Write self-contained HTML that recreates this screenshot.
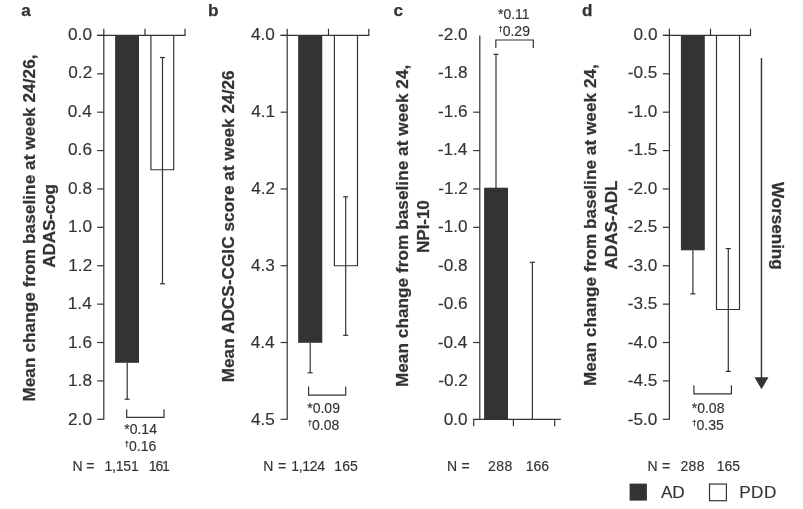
<!DOCTYPE html>
<html lang="en">
<head>
<meta charset="utf-8">
<title>Figure</title>
<style>
html,body{margin:0;padding:0;background:#fff;}
body{width:803px;height:509px;overflow:hidden;font-family:"Liberation Sans",Arial,Helvetica,sans-serif;}
svg{display:block;}
svg text{font-family:"Liberation Sans",Arial,Helvetica,sans-serif;fill:#333;stroke:#333;stroke-width:0.15px;stroke-linejoin:round;}
svg text.b{font-weight:bold;stroke-width:0.25px;}
svg .dg{stroke-width:0.3px;}
svg .ln line, svg .ln polyline, svg .ax line{stroke:#333;stroke-width:1.2px;}
</style>
</head>
<body>
<svg width="803" height="509" viewBox="0 0 803 509">
<rect x="0" y="0" width="803" height="509" fill="#ffffff"/>
<!-- panel a -->
<text x="21.2" y="15.9" font-size="17.15" class="b">a</text>
<g class="ln">
<rect x="115.1" y="35.4" width="23.9" height="327.4" fill="#333" stroke="none"/>
<rect x="150.9" y="35.4" width="22.8" height="134.37" fill="#fff" stroke="none"/>
<polyline points="150.9,35.4 150.9,169.77 173.7,169.77 173.7,35.4" fill="none"/>
<line x1="162.5" y1="57.5" x2="162.5" y2="283.8"/>
<line x1="160" y1="57.5" x2="165" y2="57.5"/>
<line x1="160" y1="283.8" x2="165" y2="283.8"/>
<line x1="127.2" y1="362.8" x2="127.2" y2="399.2"/>
<line x1="124.7" y1="399.2" x2="129.7" y2="399.2"/>
<polyline points="126.7,409.2 126.7,417.4 164,417.4 164,409.2" fill="none"/>
<line x1="97.2" y1="35.4" x2="185.5" y2="35.4"/>
<line x1="145" y1="28.7" x2="145" y2="35.4"/>
<line x1="185" y1="28.7" x2="185" y2="35.4"/>
</g>
<g class="ax">
<line x1="103.8" y1="28.7" x2="103.8" y2="419.8"/>
<line x1="97.2" y1="35.4" x2="103.8" y2="35.4"/>
<line x1="97.2" y1="73.79" x2="103.8" y2="73.79"/>
<line x1="97.2" y1="112.18" x2="103.8" y2="112.18"/>
<line x1="97.2" y1="150.57" x2="103.8" y2="150.57"/>
<line x1="97.2" y1="188.96" x2="103.8" y2="188.96"/>
<line x1="97.2" y1="227.35" x2="103.8" y2="227.35"/>
<line x1="97.2" y1="265.74" x2="103.8" y2="265.74"/>
<line x1="97.2" y1="304.13" x2="103.8" y2="304.13"/>
<line x1="97.2" y1="342.52" x2="103.8" y2="342.52"/>
<line x1="97.2" y1="380.91" x2="103.8" y2="380.91"/>
<line x1="97.2" y1="419.3" x2="103.8" y2="419.3"/>
</g>
<g class="tl">
<text x="68.05" y="39.95" font-size="17.2">0.0</text>
<text x="68.3" y="78.43" font-size="17.2">0.2</text>
<text x="67.8" y="116.91" font-size="17.2">0.4</text>
<text x="68.05" y="155.39" font-size="17.2">0.6</text>
<text x="68.05" y="193.87" font-size="17.2">0.8</text>
<text x="68.05" y="232.35" font-size="17.2">1.0</text>
<text x="68.3" y="270.83" font-size="17.2">1.2</text>
<text x="67.8" y="309.31" font-size="17.2">1.4</text>
<text x="68.05" y="347.79" font-size="17.2">1.6</text>
<text x="68.05" y="386.27" font-size="17.2">1.8</text>
<text x="68.05" y="424.75" font-size="17.2">2.0</text>
</g>
<text x="124.25" y="433.9" font-size="14">*0.14</text>
<text x="124.85" y="451" font-size="14"><tspan class="dg" font-size="7.4" dy="-4.7">†</tspan><tspan dy="4.8">0.16</tspan></text>
<text x="72.5" y="471.3" font-size="14">N</text>
<text x="86.2" y="471.3" font-size="14">=</text>
<text x="104.4" y="471.3" font-size="14" textLength="34.35" lengthAdjust="spacing">1,151</text>
<text x="148.8" y="471.3" font-size="14" textLength="21.01" lengthAdjust="spacing">161</text>
<text transform="translate(34.6 401.6) rotate(-90)" font-size="17.15" class="b" textLength="347.17" lengthAdjust="spacing">Mean change from baseline at week 24/26,</text>
<text transform="translate(55.4 267.65) rotate(-90)" font-size="17.15" class="b" textLength="83.65" lengthAdjust="spacing">ADAS-cog</text>
<!-- panel b -->
<text x="207.95" y="15.9" font-size="17.15" class="b">b</text>
<g class="ln">
<rect x="298.15" y="35.4" width="24.1" height="307.4" fill="#333" stroke="none"/>
<rect x="334.4" y="35.4" width="23.1" height="230.34" fill="#fff" stroke="none"/>
<polyline points="334.4,35.4 334.4,265.74 357.5,265.74 357.5,35.4" fill="none"/>
<line x1="345.7" y1="196.8" x2="345.7" y2="335.3"/>
<line x1="343.2" y1="196.8" x2="348.2" y2="196.8"/>
<line x1="343.2" y1="335.3" x2="348.2" y2="335.3"/>
<line x1="310.2" y1="342.8" x2="310.2" y2="372.8"/>
<line x1="307.7" y1="372.8" x2="312.7" y2="372.8"/>
<polyline points="308.6,386.5 308.6,395.2 345.7,395.2 345.7,386.5" fill="none"/>
<line x1="280.6" y1="35.4" x2="369.3" y2="35.4"/>
<line x1="328.5" y1="28.7" x2="328.5" y2="35.4"/>
<line x1="368.8" y1="28.7" x2="368.8" y2="35.4"/>
</g>
<g class="ax">
<line x1="287.2" y1="28.7" x2="287.2" y2="419.8"/>
<line x1="280.6" y1="35.4" x2="287.2" y2="35.4"/>
<line x1="280.6" y1="112.18" x2="287.2" y2="112.18"/>
<line x1="280.6" y1="188.96" x2="287.2" y2="188.96"/>
<line x1="280.6" y1="265.74" x2="287.2" y2="265.74"/>
<line x1="280.6" y1="342.52" x2="287.2" y2="342.52"/>
<line x1="280.6" y1="419.3" x2="287.2" y2="419.3"/>
</g>
<g class="tl">
<text x="250.95" y="39.95" font-size="17.2">4.0</text>
<text x="251.2" y="116.91" font-size="17.2">4.1</text>
<text x="251.2" y="193.87" font-size="17.2">4.2</text>
<text x="250.95" y="270.83" font-size="17.2">4.3</text>
<text x="250.7" y="347.79" font-size="17.2">4.4</text>
<text x="250.95" y="424.75" font-size="17.2">4.5</text>
</g>
<text x="307.25" y="412.8" font-size="14">*0.09</text>
<text x="307.85" y="430.1" font-size="14"><tspan class="dg" font-size="7.4" dy="-4.7">†</tspan><tspan dy="4.8">0.08</tspan></text>
<text x="263.2" y="471.4" font-size="14">N</text>
<text x="277.9" y="471.4" font-size="14">=</text>
<text x="291.3" y="471.4" font-size="14" textLength="33.7" lengthAdjust="spacing">1,124</text>
<text x="334.2" y="471.4" font-size="14" textLength="23.71" lengthAdjust="spacing">165</text>
<text transform="translate(233.9 382.3) rotate(-90)" font-size="17.15" class="b" textLength="311.97" lengthAdjust="spacing">Mean ADCS-CGIC score at week 24/26</text>
<!-- panel c -->
<text x="393.45" y="15.9" font-size="17.15" class="b">c</text>
<g class="ln">
<rect x="484.1" y="187.7" width="23.9" height="231.6" fill="#333" stroke="none"/>
<line x1="496" y1="54.3" x2="496" y2="188"/>
<line x1="493.5" y1="54.3" x2="498.5" y2="54.3"/>
<line x1="532.4" y1="262.3" x2="532.4" y2="419.3"/>
<line x1="529.9" y1="262.3" x2="534.9" y2="262.3"/>
<polyline points="495.85,47.9 495.85,40 533.3,40 533.3,47.9" fill="none"/>
<line x1="473.2" y1="419.3" x2="560.8" y2="419.3"/>
<line x1="473.7" y1="419.3" x2="473.7" y2="426.3"/>
<line x1="513.4" y1="419.3" x2="513.4" y2="426.3"/>
<line x1="554.7" y1="419.3" x2="554.7" y2="426.3"/>
</g>
<g class="ax">
<line x1="479.8" y1="35.4" x2="479.8" y2="419.8"/>
<line x1="473.2" y1="112.18" x2="479.8" y2="112.18"/>
<line x1="473.2" y1="150.57" x2="479.8" y2="150.57"/>
<line x1="473.2" y1="188.96" x2="479.8" y2="188.96"/>
<line x1="473.2" y1="227.35" x2="479.8" y2="227.35"/>
<line x1="473.2" y1="342.52" x2="479.8" y2="342.52"/>
</g>
<g class="tl">
<text x="438" y="39.95" font-size="17.2">-2.0</text>
<text x="438" y="78.43" font-size="17.2">-1.8</text>
<text x="438" y="116.91" font-size="17.2">-1.6</text>
<text x="437.75" y="155.39" font-size="17.2">-1.4</text>
<text x="438.25" y="193.87" font-size="17.2">-1.2</text>
<text x="438" y="232.35" font-size="17.2">-1.0</text>
<text x="438" y="270.83" font-size="17.2">-0.8</text>
<text x="438" y="309.31" font-size="17.2">-0.6</text>
<text x="437.75" y="347.79" font-size="17.2">-0.4</text>
<text x="438.25" y="386.27" font-size="17.2">-0.2</text>
<text x="443.75" y="424.75" font-size="17.2">0.0</text>
</g>
<text x="497.95" y="18.5" font-size="14">*0.11</text>
<text x="498.55" y="35.8" font-size="14"><tspan class="dg" font-size="7.4" dy="-4.7">†</tspan><tspan dy="4.8">0.29</tspan></text>
<text x="447" y="471.4" font-size="14">N</text>
<text x="461.5" y="471.4" font-size="14">=</text>
<text x="488.1" y="471.4" font-size="14" textLength="24.11" lengthAdjust="spacing">288</text>
<text x="525.7" y="471.4" font-size="14">166</text>
<text transform="translate(407.9 387.1) rotate(-90)" font-size="17.15" class="b" textLength="322.39" lengthAdjust="spacing">Mean change from baseline at week 24,</text>
<text transform="translate(428.5 252.9) rotate(-90)" font-size="17.15" class="b" textLength="52.81" lengthAdjust="spacing">NPI-10</text>
<!-- panel d -->
<text x="581.95" y="15.9" font-size="17.15" class="b">d</text>
<g class="ln">
<rect x="680.9" y="35.4" width="23.9" height="214.9" fill="#333" stroke="none"/>
<rect x="716.5" y="35.4" width="23" height="274.1" fill="#fff" stroke="none"/>
<polyline points="716.5,35.4 716.5,309.5 739.5,309.5 739.5,35.4" fill="none"/>
<line x1="692.9" y1="250.3" x2="692.9" y2="293.9"/>
<line x1="690.4" y1="293.9" x2="695.4" y2="293.9"/>
<line x1="728.3" y1="248.6" x2="728.3" y2="371.4"/>
<line x1="725.8" y1="248.6" x2="730.8" y2="248.6"/>
<line x1="725.8" y1="371.4" x2="730.8" y2="371.4"/>
<polyline points="693.9,385.3 693.9,393.9 731.4,393.9 731.4,385.3" fill="none"/>
<line x1="663" y1="35.4" x2="751" y2="35.4"/>
<line x1="710.5" y1="28.7" x2="710.5" y2="35.4"/>
<line x1="750.5" y1="28.7" x2="750.5" y2="35.4"/>
</g>
<g class="ax">
<line x1="669.4" y1="28.7" x2="669.4" y2="419.8"/>
<line x1="662.8" y1="35.4" x2="669.4" y2="35.4"/>
<line x1="662.8" y1="73.79" x2="669.4" y2="73.79"/>
<line x1="662.8" y1="112.18" x2="669.4" y2="112.18"/>
<line x1="662.8" y1="150.57" x2="669.4" y2="150.57"/>
<line x1="662.8" y1="188.96" x2="669.4" y2="188.96"/>
<line x1="662.8" y1="227.35" x2="669.4" y2="227.35"/>
<line x1="662.8" y1="265.74" x2="669.4" y2="265.74"/>
<line x1="662.8" y1="304.13" x2="669.4" y2="304.13"/>
<line x1="662.8" y1="342.52" x2="669.4" y2="342.52"/>
<line x1="662.8" y1="380.91" x2="669.4" y2="380.91"/>
<line x1="662.8" y1="419.3" x2="669.4" y2="419.3"/>
</g>
<g class="tl">
<text x="633.55" y="39.95" font-size="17.2">0.0</text>
<text x="627.8" y="78.43" font-size="17.2">-0.5</text>
<text x="627.8" y="116.91" font-size="17.2">-1.0</text>
<text x="627.8" y="155.39" font-size="17.2">-1.5</text>
<text x="627.8" y="193.87" font-size="17.2">-2.0</text>
<text x="627.8" y="232.35" font-size="17.2">-2.5</text>
<text x="627.8" y="270.83" font-size="17.2">-3.0</text>
<text x="627.8" y="309.31" font-size="17.2">-3.5</text>
<text x="627.8" y="347.79" font-size="17.2">-4.0</text>
<text x="627.8" y="386.27" font-size="17.2">-4.5</text>
<text x="627.8" y="424.75" font-size="17.2">-5.0</text>
</g>
<text x="691.75" y="412.6" font-size="14">*0.08</text>
<text x="692.35" y="430.1" font-size="14"><tspan class="dg" font-size="7.4" dy="-4.7">†</tspan><tspan dy="4.8">0.35</tspan></text>
<text x="647.6" y="471.4" font-size="14">N</text>
<text x="662.1" y="471.4" font-size="14">=</text>
<text x="680.4" y="471.4" font-size="14" textLength="24.11" lengthAdjust="spacing">288</text>
<text x="716.7" y="471.4" font-size="14">165</text>
<text transform="translate(596.3 386) rotate(-90)" font-size="17.15" class="b" textLength="321.89" lengthAdjust="spacing">Mean change from baseline at week 24,</text>
<text transform="translate(616.9 269.45) rotate(-90)" font-size="17.15" class="b" textLength="89.02" lengthAdjust="spacing">ADAS-ADL</text>
<!-- worsening arrow -->
<line x1="761.45" y1="58" x2="761.45" y2="378" stroke="#333" stroke-width="1.4"/>
<polygon points="754.5,377.3 768.5,377.3 761.5,389.3" fill="#333"/>
<text transform="translate(771.6 182) rotate(90)" font-size="17.15" class="b" textLength="87.7" lengthAdjust="spacing">Worsening</text>
<!-- legend -->
<rect x="629.6" y="483.6" width="17.3" height="17" fill="#333" stroke="none"/>
<text x="661.1" y="497.95" font-size="17.2" textLength="23.59" lengthAdjust="spacing">AD</text>
<rect x="709.5" y="484.05" width="16.9" height="16.65" fill="#fff" stroke="#333" stroke-width="1.2"/>
<text x="739.15" y="497.95" font-size="17.2" textLength="37.25" lengthAdjust="spacing">PDD</text>
</svg>
</body>
</html>
